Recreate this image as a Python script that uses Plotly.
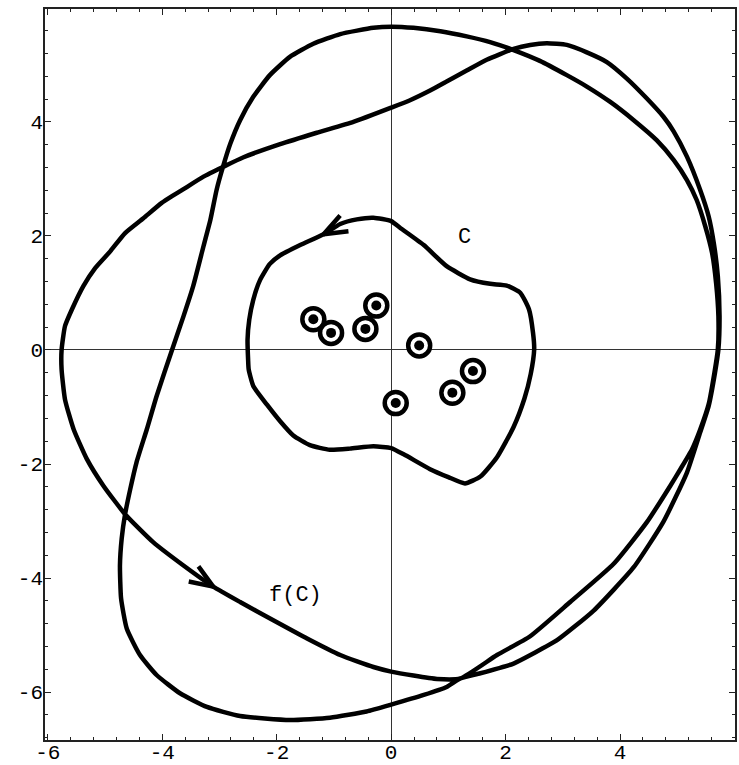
import math
import plotly.graph_objects as go

# ---------------- data ----------------
# contour C (counter-clockwise, starting at top)
c_x = [0.00, -0.31, -0.60, -0.89, -1.18, -1.59, -1.94, -2.12, -2.29, -2.41, -2.48, -2.51,
       -2.50, -2.49, -2.41, -2.17, -1.94, -1.71, -1.42, -1.07, -0.72, -0.31, 0.00, 0.22,
       0.68, 1.00, 1.29, 1.56, 1.85, 2.14, 2.33, 2.44, 2.50, 2.48, 2.41, 2.26, 2.02, 1.73,
       1.38, 0.97, 0.57, 0.16, 0.00]
c_y = [2.26, 2.32, 2.29, 2.21, 2.03, 1.84, 1.66, 1.51, 1.23, 0.88, 0.53, 0.18,
       -0.17, -0.34, -0.63, -0.96, -1.25, -1.50, -1.67, -1.75, -1.73, -1.69, -1.72, -1.83,
       -2.09, -2.23, -2.34, -2.22, -1.88, -1.35, -0.85, -0.42, 0.01, 0.30, 0.71, 1.00, 1.13, 1.16,
       1.24, 1.47, 1.84, 2.14, 2.26]
c_arrow_index = 4

# image curve f(C) (two turns, counter-clockwise)
fc_x = [1.21, 1.56, 2.14, 2.49, 2.90, 3.54, 4.24, 4.76, 5.17, 5.40, 5.55, 5.66, 5.72, 5.74,
        5.71, 5.64, 5.55, 5.40, 5.17, 4.94, 4.76, 4.47, 4.12, 3.77, 3.42, 3.07, 2.72, 2.43,
        2.14, 1.67, 1.32, 0.97, 0.68, 0.33, 0.00, -0.66, -1.30, -1.94, -2.58, -2.94, -3.28,
        -3.63, -4.01, -4.33, -4.65, -4.91, -5.17, -5.38, -5.58, -5.70, -5.76, -5.76, -5.70,
        -5.55, -5.32, -5.03, -4.65, -4.16, -3.63, -3.11, -2.64, -2.06, -1.47, -0.89, -0.31,
        0.00, 0.39, 0.80, 1.21,
        1.85, 2.43, 3.13, 3.89, 4.47, 4.88, 5.05, 5.26, 5.40, 5.55, 5.65, 5.71, 5.72, 5.68,
        5.61, 5.49, 5.34, 5.17, 4.94, 4.64, 4.24, 3.83, 3.42, 3.07, 2.60, 2.14, 1.73, 1.32,
        0.86, 0.39, 0.00, -0.31, -0.89, -1.36, -1.77, -2.12, -2.41, -2.64, -2.81, -2.94,
        -3.05, -3.16, -3.28, -3.46, -3.63, -3.83, -4.10, -4.27, -4.45, -4.56, -4.65, -4.71,
        -4.74, -4.72, -4.62, -4.39, -4.10, -3.69, -3.22, -2.64, -1.77, -1.07, -0.43, 0.00,
        0.57, 0.97, 1.21]
fc_y = [-5.76, -5.67, -5.50, -5.32, -5.09, -4.57, -3.81, -3.01, -2.15, -1.45, -0.98, -0.40, 0.01, 0.59,
        1.29, 1.87, 2.34, 2.81, 3.39, 3.83, 4.09, 4.41, 4.76, 5.05, 5.22, 5.35, 5.38, 5.35,
        5.28, 5.09, 4.90, 4.71, 4.55, 4.38, 4.25, 4.00, 3.81, 3.61, 3.38, 3.21, 3.04,
        2.82, 2.58, 2.31, 2.05, 1.73, 1.44, 1.12, 0.71, 0.42, 0.00, -0.34, -0.87,
        -1.39, -1.91, -2.38, -2.88, -3.37, -3.78, -4.15, -4.42, -4.74, -5.06, -5.35, -5.56,
        -5.64, -5.71, -5.77, -5.76,
        -5.35, -5.02, -4.42, -3.75, -3.02, -2.38, -2.10, -1.74, -1.40, -0.95, -0.40, 0.01, 0.59, 1.17,
        1.70, 2.17, 2.63, 2.98, 3.33, 3.68, 4.03, 4.35, 4.62, 4.82, 5.07, 5.26, 5.40, 5.50,
        5.59, 5.65, 5.67, 5.65, 5.54, 5.37, 5.14, 4.82, 4.44, 4.03, 3.62, 3.21,
        2.81, 2.28, 1.82, 1.12, 0.59, 0.00, -0.81, -1.39, -1.97, -2.44, -2.88, -3.31,
        -3.78, -4.36, -4.89, -5.35, -5.70, -6.02, -6.26, -6.42, -6.49, -6.45, -6.34, -6.22,
        -6.05, -5.91, -5.76]
fc_arrow_index = 59

# zeros inside C
zeros_x = [-1.36, -1.05, -0.26, -0.45, 0.49, 1.43, 1.07, 0.08]
zeros_y = [0.54, 0.30, 0.78, 0.37, 0.08, -0.37, -0.75, -0.93]

# labels
label_text = ["C", "f(C)"]
label_x = [1.29, -1.68]
label_y = [1.98, -4.30]

tick_vals = [-6, -4, -2, 0, 2, 4, 6]
tick_text = ["-6", "-4", "-2", "0", "2", "4", "6"]

# ---------------- layout geometry ----------------
W, H = 739, 765
ML, MR, MT, MB = 45, 4, 9, 25
XR = [-6.05, 6.01]
YR = [-6.84, 5.98]
PW, PH = W - ML - MR, H - MT - MB
SX = PW / (XR[1] - XR[0])
SY = PH / (YR[1] - YR[0])


def arrow_head(xs, ys, i, length=25.0, half=math.radians(21)):
    """Open V arrow head at point i, pointing along the curve direction."""
    dx = (xs[i + 1] - xs[i - 1]) * SX
    dy = (ys[i + 1] - ys[i - 1]) * SY
    n = math.hypot(dx, dy)
    ux, uy = dx / n, dy / n
    bx, by = [], []
    for s in (1, -1):
        c, sn = math.cos(s * half), math.sin(s * half)
        rx = ux * c - uy * sn
        ry = ux * sn + uy * c
        bx.append(xs[i] - rx * length / SX)
        by.append(ys[i] - ry * length / SY)
    return [bx[0], xs[i], bx[1]], [by[0], ys[i], by[1]]


LINE = dict(color="black", width=4.5)
FONT = "Liberation Mono, Courier New, monospace"

fig = go.Figure()
fig.add_trace(go.Scatter(x=fc_x, y=fc_y, mode="lines",
                         line=dict(LINE, shape="spline", smoothing=0.5),
                         hoverinfo="skip"))
fig.add_trace(go.Scatter(x=c_x, y=c_y, mode="lines",
                         line=dict(LINE, shape="spline", smoothing=0.5),
                         hoverinfo="skip"))
for xs, ys, idx in ((c_x, c_y, c_arrow_index), (fc_x, fc_y, fc_arrow_index)):
    ax_, ay_ = arrow_head(xs, ys, idx)
    fig.add_trace(go.Scatter(x=ax_, y=ay_, mode="lines", line=LINE, hoverinfo="skip"))

fig.add_trace(go.Scatter(x=zeros_x, y=zeros_y, mode="markers",
                         marker=dict(symbol="circle", size=22, color="white",
                                     line=dict(color="black", width=4.5)),
                         hoverinfo="skip"))
fig.add_trace(go.Scatter(x=zeros_x, y=zeros_y, mode="markers",
                         marker=dict(symbol="circle", size=10, color="black",
                                     line=dict(width=0)),
                         hoverinfo="skip"))

for t, x, y in zip(label_text, label_x, label_y):
    fig.add_annotation(x=x, y=y, text=t, showarrow=False,
                       font=dict(family=FONT, size=22, color="black"))

axis_common = dict(
    tickmode="array", tickvals=tick_vals, ticktext=tick_text,
    ticks="inside", ticklen=6, tickwidth=1, tickcolor="#222",
    minor=dict(ticks="inside", ticklen=3, tickwidth=1, tickcolor="#222",
               dtick=0.4, tick0=0, showgrid=False),
    showline=True, linecolor="#222", linewidth=1.5, mirror="ticks",
    showgrid=False, zeroline=True, zerolinecolor="#333", zerolinewidth=1,
    tickfont=dict(family=FONT, size=21, color="black"),
    automargin=False,
)

fig.update_layout(
    width=W, height=H,
    margin=dict(l=ML, r=MR, t=MT, b=MB, pad=0),
    paper_bgcolor="white", plot_bgcolor="white",
    showlegend=False,
    xaxis=dict(axis_common, range=XR, ticklabelstandoff=-8),
    yaxis=dict(axis_common, range=YR, ticklabelstandoff=-4),
)

fig.write_html("out.html", config={"displayModeBar": False},
               post_script="document.body.style.margin='0';document.body.style.overflow='hidden';")
